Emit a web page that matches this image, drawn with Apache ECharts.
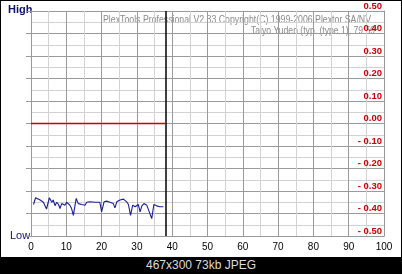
<!DOCTYPE html>
<html><head><meta charset="utf-8">
<script src="https://cdn.jsdelivr.net/npm/echarts@6/dist/echarts.min.js"></script>
<style>
html,body{margin:0;padding:0;background:#000;}
#wrap{position:absolute;left:0;top:0;width:402px;height:274px;background:#000;}
#c{position:absolute;left:1px;top:1px;width:400px;height:256px;background:#fff;}
#cap{position:absolute;left:0;top:257px;width:402px;height:17px;color:#ddd;font:12px "Liberation Sans",Arial,sans-serif;text-align:center;line-height:17px;}
</style></head>
<body>
<div id="wrap"><div id="c"></div><div id="cap">467x300 73kb JPEG</div></div>
<script>
// x positions of the measured points (units of the x axis)
const blueX = [0.7,1.3,2.6,3.5,4.4,5.2,5.9,6.3,6.8,7.3,7.8,8.2,8.7,9.6,10.1,11.0,11.5,12.0,12.8,13.4,14.4,15.3,15.8,16.7,18.1,19.5,20.0,20.7,21.4,22.4,23.3,23.8,24.3,25.2,26.2,27.1,27.6,28.2,28.8,29.5,30.4,30.9,31.4,32.0,32.8,34.2,34.8,35.6,36.5,37.5];
const blueY = [-0.36,-0.33,-0.34,-0.35,-0.38,-0.33,-0.35,-0.34,-0.365,-0.35,-0.36,-0.378,-0.356,-0.363,-0.35,-0.363,-0.378,-0.408,-0.333,-0.356,-0.36,-0.363,-0.35,-0.348,-0.35,-0.35,-0.393,-0.348,-0.345,-0.35,-0.356,-0.375,-0.348,-0.34,-0.336,-0.348,-0.36,-0.408,-0.363,-0.37,-0.36,-0.393,-0.366,-0.356,-0.363,-0.423,-0.36,-0.366,-0.37,-0.37];
const redX = [0, 38.3];
const redY = [0, 0];
const cursorX = 38.3;
const xTicks = [0,10,20,30,40,50,60,70,80,90,100];
const yTicks = [0.5,0.4,0.3,0.2,0.1,0,-0.1,-0.2,-0.3,-0.4,-0.5];
const titleLine1 = 'PlexTools Professional V2.33 Copyright(C) 1999-2006 Plextor SA/NV';
const titleLine2 = 'Taiyo Yuden (typ. (type 1), 79:59';

const chart = echarts.init(document.getElementById('c'), null, {renderer:'canvas'});
const FF = '"Liberation Sans", Arial, sans-serif';
function fmtY(v){
  const r = Math.round(v*100);
  if (r % 10 !== 0) return '';
  if (!yTicks.some(t => Math.round(t*100) === r)) return '';
  if (r === 0) return '0.00';
  return (r < 0 ? '- ' : '') + (Math.abs(r)/100).toFixed(2);
}
// condense the header text to the width it takes in the reference
const mctx = document.createElement('canvas').getContext('2d');
function fitScale(text, font, w){ mctx.font = font; return w / mctx.measureText(text).width; }
const TF = '10px ' + FF;
const s1 = fitScale(titleLine1, TF, 268);
const s2 = fitScale(titleLine2, TF, 124);

chart.setOption({
  animation:false,
  grid:{left:30, right:17, top:9, bottom:21},
  xAxis:{type:'value', min:0, max:100, interval:5,
    axisLine:{show:true, onZero:false, lineStyle:{color:'#999'}},
    axisTick:{show:false},
    axisLabel:{color:'#000', fontFamily:FF, fontSize:10, margin:6,
      formatter:v => xTicks.includes(Math.round(v)) ? String(Math.round(v)) : ''},
    splitLine:{show:true, lineStyle:{color:['#9a9a9a','#d2d2d2'], width:1}}
  },
  yAxis:[{type:'value', min:-0.5, max:0.5, interval:0.05, position:'right',
    axisLine:{show:true, onZero:false, lineStyle:{color:'#999'}},
    axisTick:{show:false},
    axisLabel:{inside:true, color:'#cc0000', fontFamily:FF, fontSize:9.5, fontWeight:'bold', margin:2,
      verticalAlign:'bottom', formatter:fmtY},
    splitLine:{show:true, lineStyle:{color:['#9a9a9a','#d2d2d2'], width:1}}
  },{type:'value', min:-0.5, max:0.5, interval:0.1, position:'left',
    axisLine:{show:true, onZero:false, lineStyle:{color:'#999'}},
    axisTick:{show:true, length:5, lineStyle:{color:'#999'}},
    axisLabel:{show:false}, splitLine:{show:false}
  }],
  series:[
    {type:'line', data:redX.map((x,i)=>[x,redY[i]]), symbol:'none', color:'#cc0000',
      lineStyle:{color:'#cc0000', width:1.5}, z:5,
      markLine:{silent:true, symbol:'none', label:{show:false},
        lineStyle:{color:'#000', width:1.5, type:'solid'}, data:[{xAxis:cursorX}]}},
    {type:'line', data:blueX.map((x,i)=>[x,blueY[i]]), symbol:'none', color:'#1c1c9c',
      lineStyle:{color:'#1c1c9c', width:1.1}, z:4}
  ],
  graphic:[
    {type:'text', left:7, top:3, style:{text:'High', fill:'#101070', font:'bold 11px '+FF}},
    {type:'text', left:9, top:229, style:{text:'Low', fill:'#101070', font:'11px '+FF}},
    {type:'text', x:102, y:14, scaleX:s1, style:{text:titleLine1, fill:'#8a8a8a', font:TF}},
    {type:'text', x:250, y:25, scaleX:s2, style:{text:titleLine2, fill:'#8a8a8a', font:TF}}
  ]
});
</script>
</body></html>
